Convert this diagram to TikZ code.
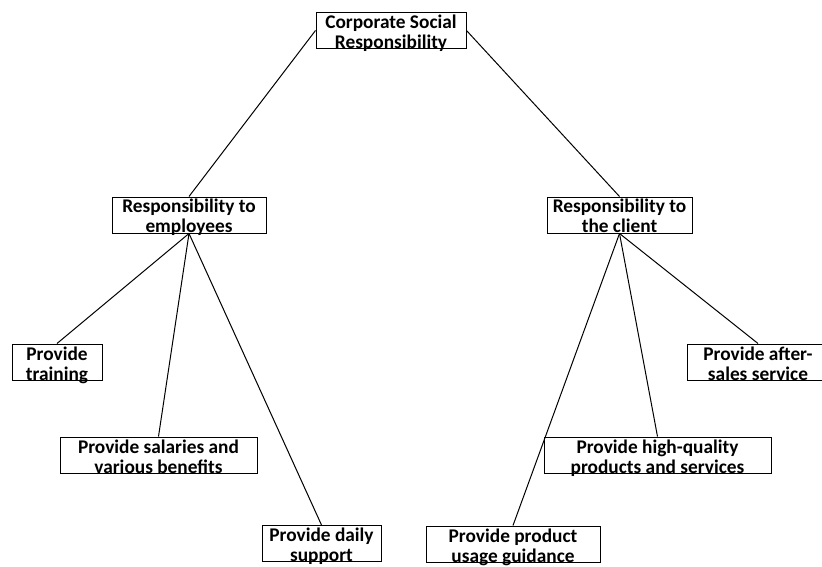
\documentclass[tikz,border=0pt]{standalone}
\usepackage{fontspec}
\setmainfont{Carlito}
\begin{document}
\begin{tikzpicture}[x=0.75pt,y=-0.75pt,
  box/.style={draw, fill=white, line width=0.75pt, font=\bfseries\fontsize{14.5}{15}\selectfont,
    align=center, inner sep=0pt, text depth=0pt, text height=27pt, minimum height=27pt},
  link/.style={line width=0.75pt}]
\useasboundingbox (0,0) rectangle (822,567);
\node[box, minimum width=112.5pt] (csr) at (391,30.5) {Corporate Social\\Responsibility};
\node[box, minimum width=115.5pt] (emp) at (189,215) {Responsibility to\\employees};
\node[box, minimum width=108.75pt] (cli) at (619.5,215) {Responsibility to\\the client};
\node[box, minimum width=67.5pt] (train) at (57,362) {Provide\\training};
\node[box, minimum width=147.75pt] (sal) at (158.5,455) {Provide salaries and\\various benefits};
\node[box, minimum width=89.25pt] (daily) at (321.5,543.5) {Provide daily\\support};
\node[box, minimum width=130.5pt] (guide) at (513,544) {Provide product\\usage guidance};
\node[box, minimum width=170.25pt] (hq) at (657.5,455) {Provide high-quality\\products and services};
\node[box, minimum width=106.5pt] (after) at (758,362) {Provide after-\\sales service};
\draw[link] (csr.west) -- (emp.north);
\draw[link] (csr.east) -- (cli.north);
\draw[link] (emp.south) -- (train.north);
\draw[link] (emp.south) -- (sal.north);
\draw[link] (emp.south) -- (daily.north);
\draw[link] (cli.south) -- (guide.north);
\draw[link] (cli.south) -- (hq.north);
\draw[link] (cli.south) -- (after.north);
\end{tikzpicture}
\end{document}
